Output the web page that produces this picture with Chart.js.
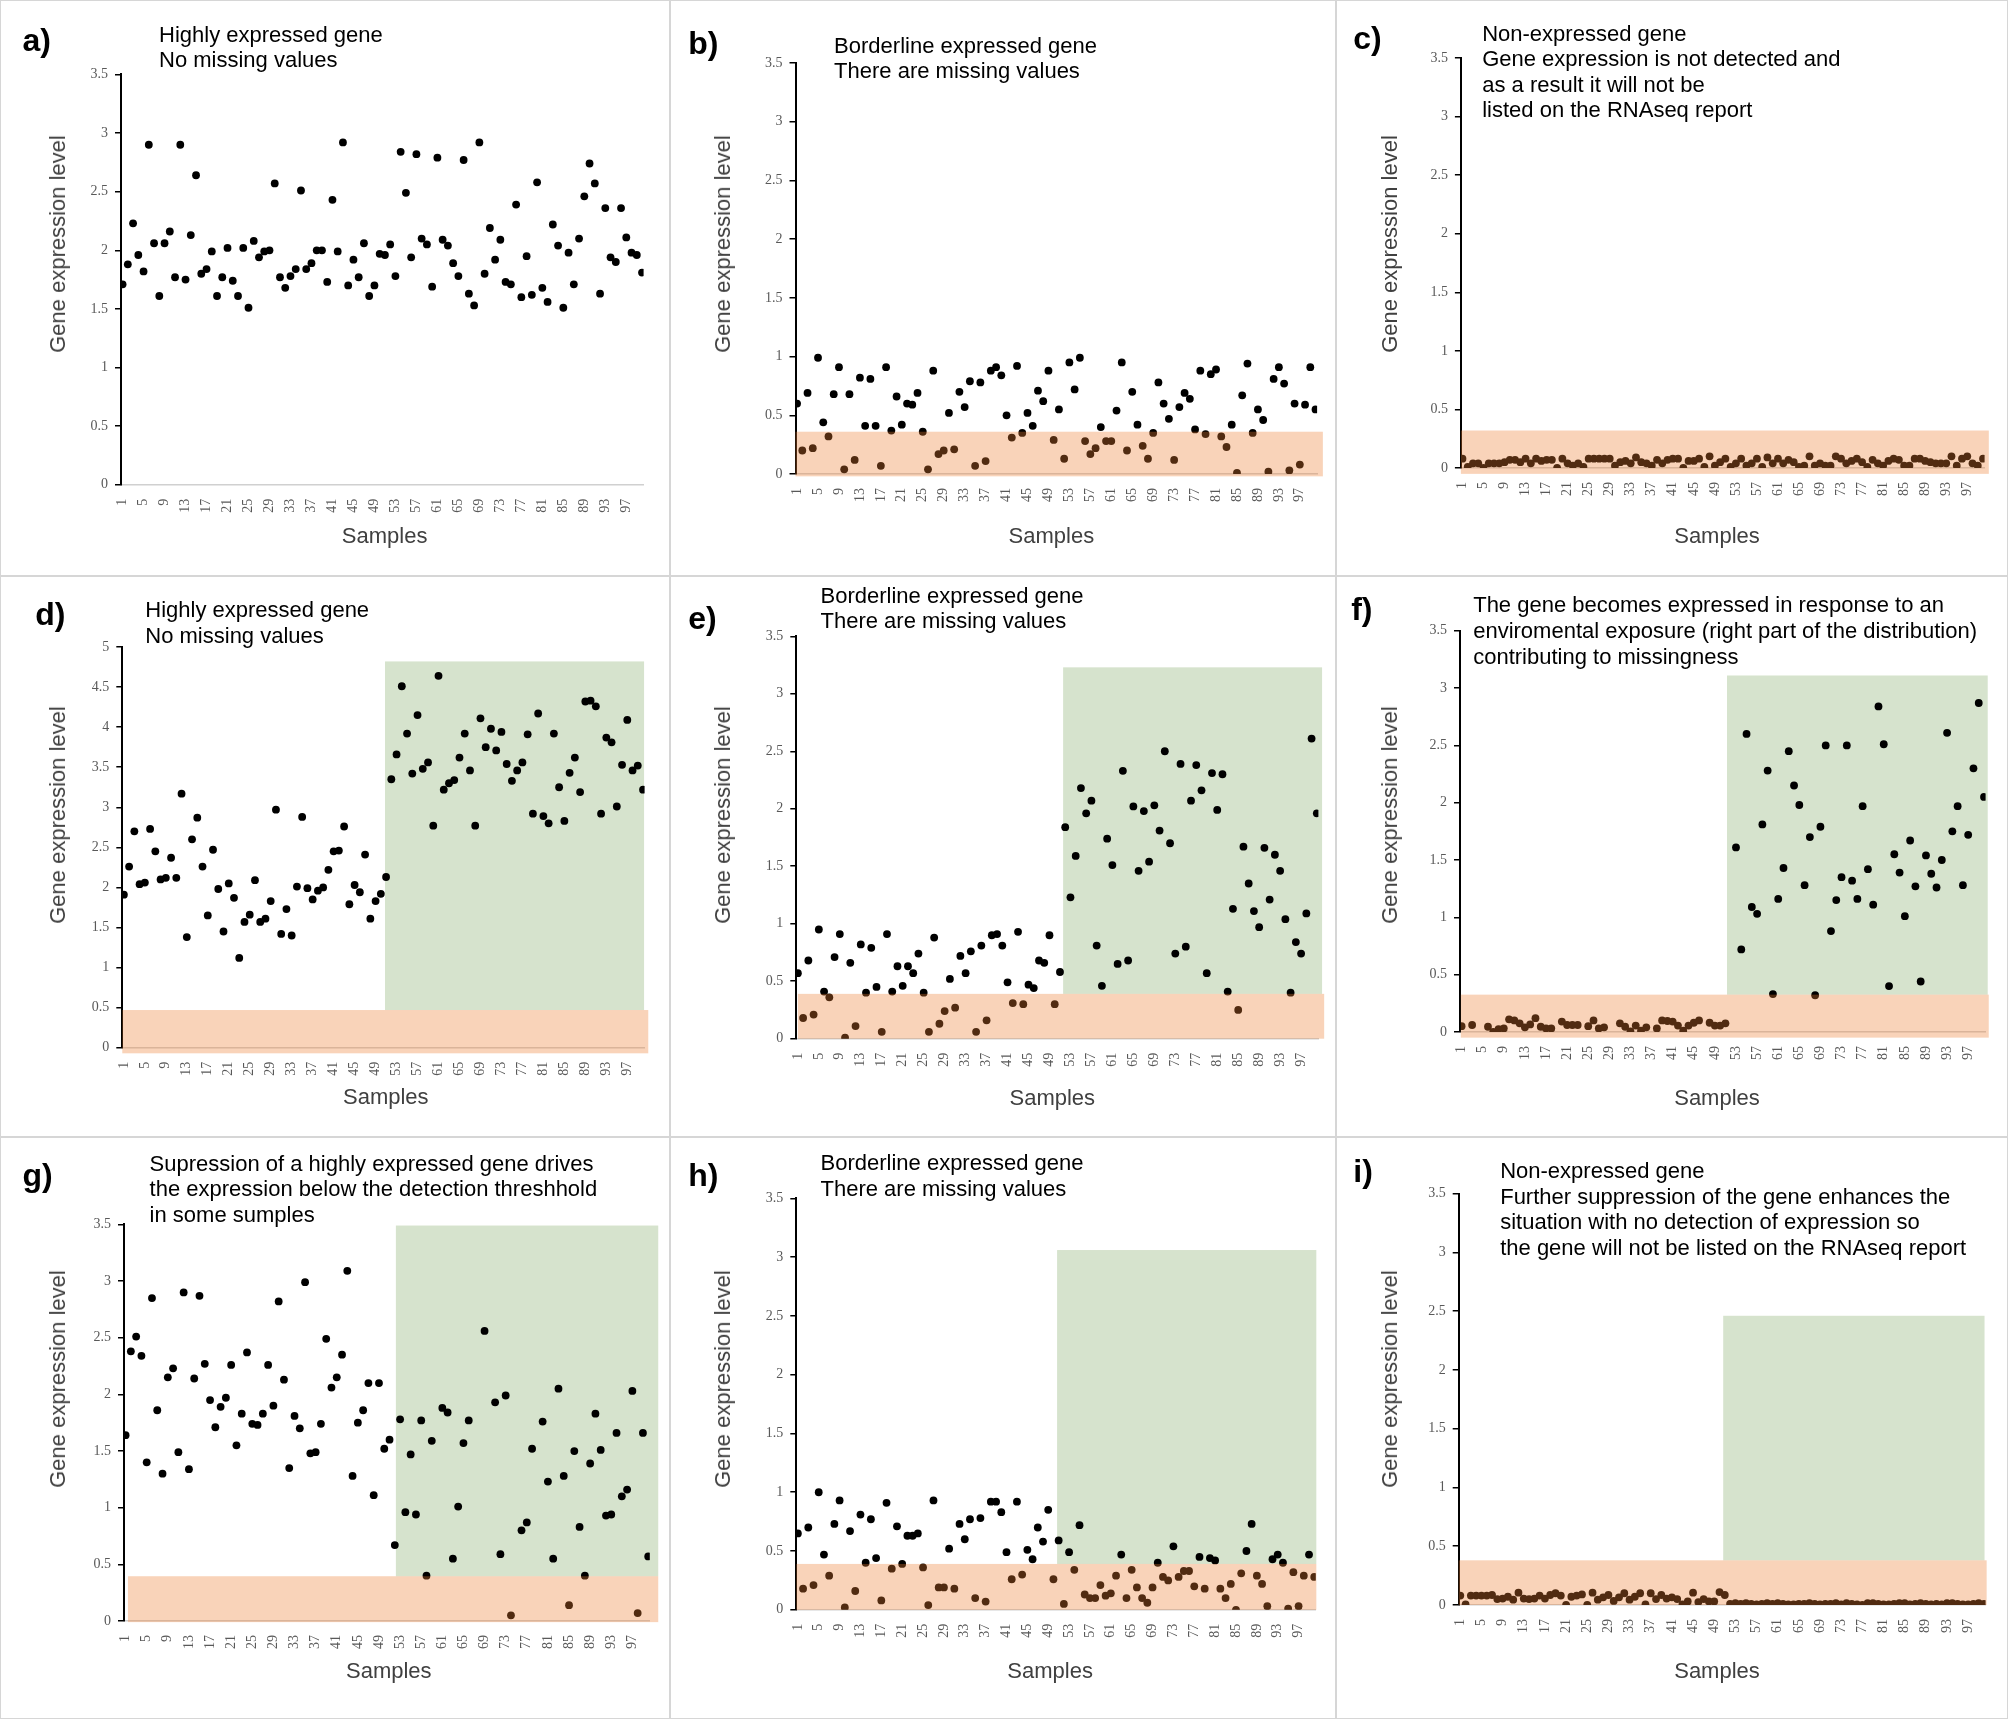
<!DOCTYPE html>
<html>
<head>
<meta charset="utf-8">
<script src="https://cdn.jsdelivr.net/npm/chart.js@4.4.1/dist/chart.umd.min.js"></script>
<style>
  html, body { margin: 0; padding: 0; background: #fff; }
  #fig { position: relative; width: 2008px; height: 1719px; overflow: hidden; background: #fff; }
  .panel { position: absolute; box-shadow: inset 0 0 0 1px #d6d6d6; }
  .panel canvas { position: absolute; left: 0; top: 0; }
  .lab { position: absolute; font: bold 32px "Liberation Sans", Arial, sans-serif; line-height: 32px; color: #000; white-space: nowrap; }
  .note { position: absolute; font: 22px "Liberation Sans", Arial, sans-serif; line-height: 25.6px; color: #000; white-space: nowrap; }
  .ytitle, .xtitle { position: absolute; font: 22px "Liberation Sans", Arial, sans-serif; line-height: 26px; color: #404040; white-space: nowrap; }
  .ytitle { transform: translate(-50%, -50%) rotate(-90deg); }
  .xtitle { transform: translate(-50%, -50%); }
</style>
</head>
<body>
<div id="fig"></div>
<script>
// sample numbers shown on the x axis
const xTickValues = [1, 5, 9, 13, 17, 21, 25, 29, 33, 37, 41, 45, 49, 53, 57, 61, 65, 69, 73, 77, 81, 85, 89, 93, 97];

// gene expression per sample (1..100), null = no point drawn
const valuesA = [1.71,1.88,2.23,1.96,1.82,2.90,2.06,1.61,2.06,2.16, 1.77,2.90,1.75,2.13,2.64,1.80,1.84,1.99,1.61,1.77,
  2.02,1.74,1.61,2.02,1.51,2.08,1.94,1.99,2.00,2.57, 1.77,1.68,1.78,1.84,2.51,1.84,1.89,2.00,2.00,1.73,
  2.43,1.99,2.92,1.70,1.92,1.77,2.06,1.61,1.70,1.97, 1.96,2.05,1.78,2.84,2.49,1.94,2.82,2.10,2.05,1.69,
  2.79,2.09,2.04,1.89,1.78,2.77,1.63,1.53,2.92,1.80, 2.19,1.92,2.09,1.73,1.71,2.39,1.60,1.95,1.62,2.58,
  1.68,1.56,2.22,2.04,1.51,1.98,1.71,2.10,2.46,2.74, 2.57,1.63,2.36,1.94,1.90,2.36,2.11,1.98,1.96,1.81];
const valuesB = [0.60,0.20,0.69,0.22,0.99,0.44,0.32,0.68,0.91,0.04, 0.68,0.12,0.82,0.41,0.81,0.41,0.07,0.91,0.37,0.66,
  0.42,0.60,0.59,0.69,0.36,0.04,0.88,0.17,0.20,0.52, 0.21,0.70,0.57,0.79,0.07,0.78,0.11,0.88,0.91,0.84,
  0.50,0.31,0.92,0.35,0.52,0.41,0.71,0.62,0.88,0.29, 0.55,0.13,0.95,0.72,0.99,0.28,0.17,0.22,0.40,0.28,
  0.28,0.54,0.95,0.20,0.70,0.42,0.24,0.13,0.35,0.78, 0.60,0.47,0.12,0.57,0.69,0.64,0.38,0.88,0.34,0.85,
  0.89,0.32,0.23,0.42,0.01,0.67,0.94,0.35,0.55,0.46, 0.02,0.81,0.91,0.77,0.03,0.60,0.08,0.59,0.91,0.55];
const valuesC = [0.08,0.01,0.04,0.04,0.00,0.04,0.04,0.04,0.05,0.07, 0.07,0.05,0.08,0.04,0.08,0.06,0.07,0.07,0.00,0.08,
  0.04,0.02,0.04,0.01,0.08,0.08,0.08,0.08,0.08,0.02, 0.05,0.06,0.04,0.09,0.05,0.04,0.02,0.07,0.04,0.07,
  0.08,0.08,0.00,0.06,0.06,0.08,0.01,0.10,0.02,0.05, 0.08,0.01,0.04,0.08,0.02,0.04,0.08,0.01,0.09,0.04,
  0.08,0.04,0.07,0.05,0.01,0.02,0.10,0.02,0.04,0.02, 0.02,0.10,0.08,0.04,0.06,0.08,0.05,0.01,0.07,0.04,
  0.02,0.06,0.08,0.07,0.02,0.02,0.08,0.08,0.06,0.05, 0.04,0.04,0.04,0.10,0.02,0.08,0.10,0.04,0.02,0.08];
const valuesD = [1.91,2.26,2.70,2.04,2.06,2.73,2.45,2.10,2.12,2.37, 2.12,3.17,1.38,2.60,2.87,2.26,1.65,2.47,1.98,1.45,
  2.05,1.87,1.12,1.57,1.66,2.09,1.57,1.61,1.83,2.97, 1.42,1.73,1.40,2.01,2.88,1.99,1.85,1.96,2.00,2.22,
  2.45,2.46,2.76,1.79,2.03,1.94,2.41,1.61,1.83,1.92, 2.13,3.35,3.66,4.51,3.92,3.42,4.15,3.48,3.56,2.77,
  4.64,3.22,3.30,3.34,3.62,3.92,3.46,2.77,4.11,3.75, 3.98,3.71,3.94,3.54,3.33,3.46,3.56,3.91,2.92,4.17,
  2.89,2.80,3.92,3.25,2.83,3.43,3.62,3.19,4.32,4.33, 4.26,2.92,3.87,3.81,3.01,3.53,4.09,3.46,3.52,3.22];
const valuesE = [0.57,0.18,0.68,0.21,0.95,0.41,0.36,0.71,0.91,0.01, 0.66,0.11,0.82,0.40,0.79,0.45,0.06,0.91,0.41,0.63,
  0.46,0.63,0.57,0.74,0.40,0.06,0.88,0.13,0.24,0.52, 0.27,0.72,0.57,0.76,0.06,0.81,0.16,0.90,0.91,0.81,
  0.49,0.31,0.93,0.30,0.47,0.44,0.68,0.66,0.90,0.30, 0.58,1.84,1.23,1.59,2.18,1.96,2.07,0.81,0.46,1.74,
  1.51,0.65,2.33,0.68,2.02,1.46,1.98,1.54,2.03,1.81, 2.50,1.70,0.74,2.39,0.80,2.07,2.38,2.16,0.57,2.31,
  1.99,2.30,0.41,1.13,0.25,1.67,1.35,1.11,0.97,1.66, 1.21,1.60,1.46,1.04,0.40,0.84,0.74,1.09,2.61,1.96];
const valuesF = [0.05,null,0.06,null,null,0.045,0.00,0.025,0.03,0.11, 0.10,0.075,0.04,0.065,0.12,0.045,0.03,0.03,null,0.09,
  0.06,0.06,0.06,null,0.05,0.10,0.03,0.04,null,null, 0.075,0.045,0.005,0.055,0.01,0.04,null,0.03,0.10,0.095,
  0.09,0.055,0.01,0.055,0.08,0.10,null,0.08,0.055,0.055, 0.075,null,1.61,0.72,2.60,1.09,1.03,1.81,2.28,0.33,
  1.16,1.43,2.45,2.15,1.98,1.28,1.70,0.32,1.79,2.50, 0.88,1.15,1.35,2.50,1.32,1.16,1.97,1.42,1.11,2.84,
  2.51,0.40,1.55,1.39,1.01,1.67,1.27,0.44,1.54,1.38, 1.26,1.50,2.61,1.75,1.97,1.28,1.72,2.30,2.87,2.05];
const valuesG = [1.64,2.38,2.51,2.34,1.40,2.85,1.86,1.30,2.15,2.23, 1.49,2.90,1.34,2.14,2.87,2.27,1.95,1.71,1.89,1.97,
  2.26,1.55,1.83,2.37,1.74,1.73,1.83,2.26,1.90,2.82, 2.13,1.35,1.81,1.70,2.99,1.48,1.49,1.74,2.49,2.06,
  2.15,2.35,3.09,1.28,1.75,1.86,2.10,1.11,2.10,1.52, 1.60,0.67,1.78,0.96,1.47,0.94,1.77,0.40,1.59,null,
  1.88,1.84,0.55,1.01,1.57,1.77,null,null,2.56,null, 1.93,0.59,1.99,0.05,null,0.80,0.87,1.52,null,1.76,
  1.23,0.55,2.05,1.28,0.14,1.50,0.83,0.40,1.39,1.83, 1.51,0.93,0.94,1.66,1.10,1.16,2.03,0.07,1.66,0.57];
const valuesH = [0.65,0.18,0.70,0.21,1.00,0.47,0.29,0.73,0.93,0.02, 0.67,0.16,0.81,0.40,0.77,0.44,0.08,0.91,0.35,0.71,
  0.39,0.63,0.63,0.65,0.36,0.04,0.93,0.19,0.19,0.52, 0.18,0.73,0.60,0.77,0.10,0.78,0.07,0.92,0.92,0.83,
  0.49,0.26,0.92,0.30,0.51,0.43,0.70,0.58,0.85,0.26, 0.59,0.05,0.49,0.34,0.72,0.13,0.10,0.10,0.21,0.12,
  0.14,0.29,0.47,0.10,0.34,0.19,0.10,0.06,0.19,0.40, 0.28,0.25,0.54,0.28,0.33,0.33,0.20,0.45,0.18,0.44,
  0.42,0.18,0.10,0.22,0.00,0.31,0.50,0.73,0.29,0.22, 0.03,0.43,0.47,0.40,0.01,0.32,0.03,0.29,0.47,0.28];
const valuesI = [0.08,0.005,0.08,0.08,0.08,0.08,0.085,0.05,0.055,0.07, 0.045,0.105,0.055,0.05,0.055,0.08,0.055,0.085,0.10,0.08,
  0.00,0.07,0.08,0.09,0.00,0.105,0.045,0.065,0.085,0.035, 0.065,0.10,0.045,0.07,0.10,0.005,0.10,0.05,0.085,0.055,
  0.065,0.05,0.005,0.03,0.105,0.025,0.05,0.03,0.03,0.11, 0.085,0.01,0.015,0.01,0.015,0.01,0.005,0.01,0.015,0.01,
  0.015,0.01,0.005,0.005,0.01,0.01,0.015,0.01,0.005,0.01, 0.01,0.015,0.005,0.015,0.01,0.005,0.00,0.015,0.015,0.01,
  0.005,0.005,0.01,0.015,0.015,0.005,0.01,0.015,0.01,0.005, 0.01,0.005,0.015,0.015,0.01,0.005,0.005,0.01,0.015,0.01];

// per panel a..i: y axis top, detection band (orange) and exposure block (green), in chart units
const yMax         = [3.5, 3.5, 3.5, 5, 3.5, 3.5, 3.5, 3.5, 3.5];
const orangeTop    = [null, 0.36, 0.32, 0.47, 0.39, 0.325, 0.395, 0.39, 0.38];
const orangeBottom = [null, -0.02, -0.05, -0.07, 0, -0.05, -0.01, 0, 0];
const orangeFrom   = [null, 0.7, 0.7, 0.7, 1.0, 0.85, 1.45, 0.7, 0.7];
const orangeTo     = [null, 101.4, 101.1, 101.0, 101.4, 100.9, 101.9, 100.4, 100.5];
const greenFrom    = [null, null, null, 50.8, 51.6, 51.3, 52.2, 50.7, 50.7];
const greenTo      = [null, null, null, 100.2, 101.0, 100.7, 101.9, 100.4, 100.1];
const greenTop     = [null, null, null, 4.82, 3.23, 3.11, 3.49, 3.06, 2.46];

const panelLabels = ['a)', 'b)', 'c)', 'd)', 'e)', 'f)', 'g)', 'h)', 'i)'];
const panelNotes = [
  ['Highly expressed gene', 'No missing values'],
  ['Borderline expressed gene', 'There are missing values'],
  ['Non-expressed gene', 'Gene expression is not detected and', 'as a result it will not be', 'listed on the RNAseq report'],
  ['Highly expressed gene', 'No missing values'],
  ['Borderline expressed gene', 'There are missing values'],
  ['The gene becomes expressed in response to an', 'enviromental exposure (right part of the distribution)', 'contributing to missingness'],
  ['Supression of a highly expressed gene drives', 'the expression below the detection threshhold', 'in some sumples'],
  ['Borderline expressed gene', 'There are missing values'],
  ['Non-expressed gene', 'Further suppression of the gene enhances the', 'situation with no detection of expression so', 'the gene will not be listed on the RNAseq report']
];
const allValues = [valuesA, valuesB, valuesC, valuesD, valuesE, valuesF, valuesG, valuesH, valuesI];

// page geometry
const colX = [0, 670, 1336], colW = [670, 666, 672];
const rowY = [0, 576, 1137], rowH = [576, 561, 582];
// plot area (L,T,R,B), label / note / titles positions, all panel-local px
const geo = [
  {L: 121.0, T: 74.4, R: 643.6, B: 484.8, lab: [23.5, 27.5], note: [159, 42.2], yt: [57.7, 244], xt: [384.6, 536]},
  {L: 125.5, T: 63.0, R: 647.1, B: 474.0, lab: [19.3, 31.2], note: [164.1, 53.2], yt: [53.4, 244], xt: [381.4, 536]},
  {L: 124.9, T: 58.0, R: 648.6, B: 468.0, lab: [18.3, 25.7], note: [146.2, 41.0], yt: [53.5, 244], xt: [381, 536]},
  {L: 122.3, T: 71.0, R: 644.6, B: 471.7, lab: [36.3, 26.0], note: [145.3, 41.5], yt: [57.7, 238.6], xt: [385.8, 521.4]},
  {L: 126.3, T: 60.3, R: 648.4, B: 462.7, lab: [19.3, 29.6], note: [150.5, 27.1], yt: [53.4, 238.6], xt: [382.3, 522.1]},
  {L: 124.0, T: 54.8, R: 649.6, B: 455.9, lab: [16.2, 20.6], note: [137.2, 36.8], yt: [53.5, 238.6], xt: [381, 522]},
  {L: 124.0, T: 87.4, R: 649.8, B: 484.0, lab: [23.5, 25.9], note: [149.6, 34.1], yt: [57.7, 242], xt: [388.8, 534.3]},
  {L: 126.3, T: 61.3, R: 645.8, B: 472.8, lab: [19.3, 25.9], note: [150.5, 33.4], yt: [53.4, 242], xt: [380.1, 534]},
  {L: 122.7, T: 56.5, R: 649.6, B: 468.0, lab: [18.3, 22.2], note: [164.2, 41.6], yt: [53.5, 242], xt: [381, 534]}
];

const GREEN = '#d6e3cd';
const ORANGE = 'rgba(237, 125, 49, 0.34)';

// green block behind the points, orange band over them (points show through brown)
const bandPlugin = {
  id: 'bands',
  beforeDatasetsDraw(chart, args, opts) {
    if (opts.greenTop == null) return;
    const {x, y} = chart.scales;
    const ctx = chart.ctx;
    const x0 = x.getPixelForValue(opts.greenFrom), x1 = x.getPixelForValue(opts.greenTo);
    const y0 = y.getPixelForValue(opts.greenTop), y1 = y.getPixelForValue(opts.orangeTop);
    ctx.save();
    ctx.fillStyle = GREEN;
    ctx.fillRect(x0, y0, x1 - x0, y1 - y0);
    ctx.restore();
  },
  afterDatasetsDraw(chart, args, opts) {
    if (opts.orangeTop == null) return;
    const {x, y} = chart.scales;
    const ctx = chart.ctx;
    const x0 = x.getPixelForValue(opts.orangeFrom), x1 = x.getPixelForValue(opts.orangeTo);
    const y0 = y.getPixelForValue(opts.orangeTop), y1 = y.getPixelForValue(opts.orangeBottom);
    ctx.save();
    ctx.fillStyle = ORANGE;
    ctx.fillRect(x0, y0, x1 - x0, y1 - y0);
    ctx.restore();
  }
};

const tickFont = {family: '"Liberation Serif", "DejaVu Serif", serif', size: 14};
const fig = document.getElementById('fig');

allValues.forEach((values, i) => {
  const col = i % 3, row = Math.floor(i / 3);
  const W = colW[col], H = rowH[row], g = geo[i];

  const panel = document.createElement('div');
  panel.className = 'panel';
  panel.style.left = colX[col] + 'px';
  panel.style.top = rowY[row] + 'px';
  panel.style.width = W + 'px';
  panel.style.height = H + 'px';
  fig.appendChild(panel);

  const canvas = document.createElement('canvas');
  canvas.width = W;
  canvas.height = H;
  panel.appendChild(canvas);

  const lab = document.createElement('div');
  lab.className = 'lab';
  lab.textContent = panelLabels[i];
  lab.style.left = (g.lab[0] - 1) + 'px';
  lab.style.top = (g.lab[1] - 4) + 'px';
  panel.appendChild(lab);

  const note = document.createElement('div');
  note.className = 'note';
  note.innerHTML = panelNotes[i].join('<br>');
  note.style.left = g.note[0] + 'px';
  note.style.top = (g.note[1] - 20.4) + 'px';
  panel.appendChild(note);

  const yt = document.createElement('div');
  yt.className = 'ytitle';
  yt.textContent = 'Gene expression level';
  yt.style.left = g.yt[0] + 'px';
  yt.style.top = g.yt[1] + 'px';
  panel.appendChild(yt);

  const xt = document.createElement('div');
  xt.className = 'xtitle';
  xt.textContent = 'Samples';
  xt.style.left = g.xt[0] + 'px';
  xt.style.top = g.xt[1] + 'px';
  panel.appendChild(xt);

  const points = [];
  values.forEach((v, k) => { if (v !== null) points.push({x: k + 1, y: v}); });

  new Chart(canvas.getContext('2d'), {
    type: 'scatter',
    data: {
      datasets: [{
        data: points,
        backgroundColor: '#000',
        borderWidth: 0,
        pointRadius: 3.9,
        pointHoverRadius: 3.9
      }]
    },
    plugins: [bandPlugin],
    options: {
      responsive: false,
      animation: false,
      devicePixelRatio: 1,
      events: [],
      layout: {padding: {left: 0, top: g.T, right: W - g.R, bottom: 0}},
      plugins: {
        legend: {display: false},
        tooltip: {enabled: false},
        bands: {
          orangeTop: orangeTop[i], orangeBottom: orangeBottom[i],
          orangeFrom: orangeFrom[i], orangeTo: orangeTo[i],
          greenFrom: greenFrom[i], greenTo: greenTo[i], greenTop: greenTop[i]
        }
      },
      scales: {
        x: {
          type: 'linear',
          min: 0.7,
          max: 100.3,
          afterBuildTicks: (axis) => { axis.ticks = xTickValues.map(v => ({value: v})); },
          afterFit: (axis) => { axis.height = H - g.B; },
          grid: {display: false},
          border: {display: true, color: '#d0d0d0', width: 1.5},
          ticks: {autoSkip: false, minRotation: 90, maxRotation: 90, padding: 6, color: '#595959', font: tickFont}
        },
        y: {
          min: 0,
          max: yMax[i],
          afterFit: (axis) => { axis.width = g.L; },
          grid: {display: true, drawOnChartArea: false, drawTicks: true, tickLength: 6, color: '#000', lineWidth: 1.5},
          border: {display: true, color: '#000', width: 2},
          ticks: {stepSize: 0.5, padding: 7, color: '#595959', font: tickFont, callback: (v) => String(v)}
        }
      }
    }
  });
});
</script>
</body>
</html>
